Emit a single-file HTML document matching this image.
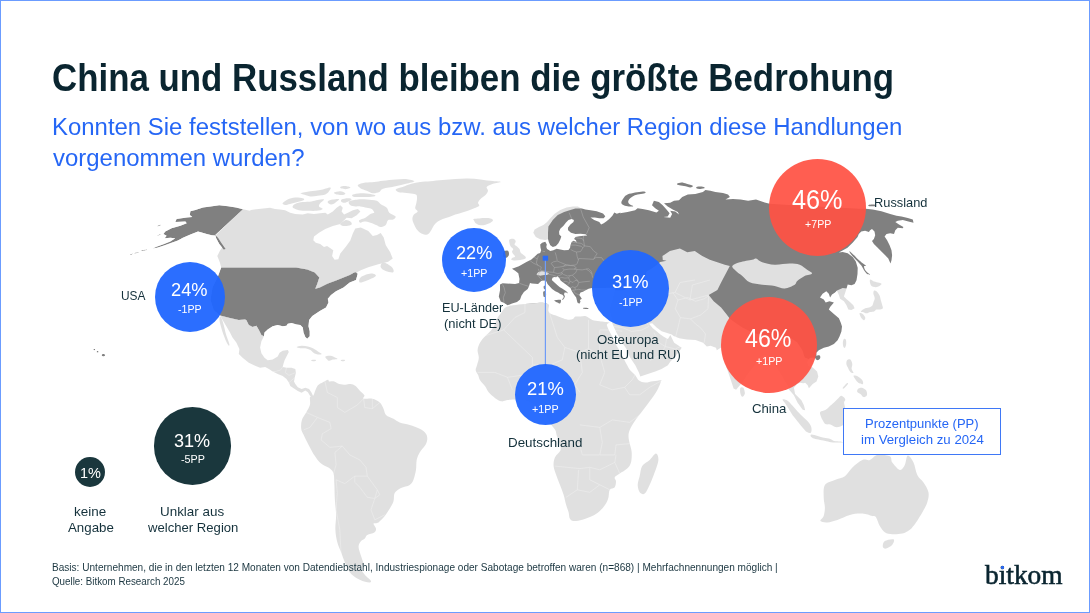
<!DOCTYPE html>
<html lang="de">
<head>
<meta charset="utf-8">
<title>China und Russland bleiben die größte Bedrohung</title>
<style>
html,body{margin:0;padding:0;background:#fff;}
body{width:1090px;height:613px;overflow:hidden;position:relative;font-family:"Liberation Sans",sans-serif;color:#14313b;}
#frame{position:absolute;left:0;top:0;width:1088px;height:611px;border:1px solid #6b9cff;z-index:20;pointer-events:none;}
#map{position:absolute;left:0;top:0;width:1090px;height:613px;}
.c{position:absolute;border-radius:50%;}
.blue{background:rgba(32,102,255,.95);}
.red{background:rgba(255,82,68,.93);}
.dark{background:#1a373d;}
.t{position:absolute;margin:0;padding:0;font-weight:normal;white-space:nowrap;transform-origin:0 0;font-family:"Liberation Sans",sans-serif;}
#note{position:absolute;left:843.2px;top:408px;width:155.6px;height:44.9px;border:1px solid #3f78f6;background:#fff;}
#idot{position:absolute;left:1000.6px;top:566.4px;width:3px;height:2.9px;background:#2a69f3;border-radius:1px;}
</style>
</head>
<body>
<svg id="map" viewBox="0 0 1090 613">
<defs>
<clipPath id="lc"><path d="M243.0,209.2L236.0,207.6L228.1,206.3L219.3,205.3L210.5,206.6L203.0,207.6L195.4,210.1L190.4,211.3L189.8,215.1L192.3,217.0L186.7,217.6L176.6,218.9L175.3,222.0L185.4,221.4L186.7,223.3L180.4,225.8L171.6,228.3L165.3,231.4L163.4,233.9L166.6,235.8L164.7,238.3L170.3,237.7L175.3,238.3L170.3,241.5L162.8,244.6L156.5,246.7L152.7,248.4L157.1,247.7L164.0,245.6L171.6,242.8L177.9,240.5L182.9,237.7L190.4,234.4L198.0,231.4L201.7,232.4L206.7,233.9L211.8,235.2L215.5,234.9L218.0,237.7L221.2,242.7L225.6,249.0L223.7,249.6L219.3,244.0L216.2,238.3L215.3,234.9Z"/><path d="M141.2,250.8C141.7,250.6 143.0,250.3 144.0,250.1C144.9,249.9 146.3,249.6 146.7,249.6C147.2,249.6 147.2,249.9 146.7,250.1C146.3,250.3 144.9,250.6 144.0,250.8C143.0,250.9 141.7,251.1 141.2,251.1C140.7,251.1 140.7,250.9 141.2,250.8Z"/><path d="M134.4,253.3C134.7,253.1 135.7,252.8 136.4,252.6C137.1,252.5 138.1,252.1 138.4,252.1C138.8,252.1 138.8,252.5 138.4,252.6C138.1,252.8 137.1,253.1 136.4,253.3C135.7,253.4 134.7,253.6 134.4,253.6C134.1,253.6 134.1,253.4 134.4,253.3Z"/><path d="M130.1,254.7C130.3,254.5 131.0,254.2 131.4,254.0C131.8,253.8 132.4,253.5 132.7,253.5C132.9,253.5 132.9,253.8 132.7,254.0C132.4,254.2 131.8,254.5 131.4,254.7C131.0,254.8 130.3,255.0 130.1,255.0C129.9,255.0 129.9,254.8 130.1,254.7Z"/><path d="M157.3,225.9C157.6,225.7 158.4,225.5 159.0,225.3C159.6,225.1 160.5,224.8 160.8,224.8C161.1,224.8 161.1,225.1 160.8,225.3C160.5,225.5 159.6,225.7 159.0,225.9C158.4,226.1 157.6,226.3 157.3,226.3C157.0,226.3 157.0,226.1 157.3,225.9Z"/><path d="M157.5,235.3C157.8,235.1 158.5,234.9 159.0,234.7C159.5,234.5 160.3,234.2 160.5,234.2C160.8,234.2 160.8,234.5 160.5,234.7C160.3,234.9 159.5,235.1 159.0,235.3C158.5,235.5 157.8,235.7 157.5,235.7C157.3,235.7 157.3,235.5 157.5,235.3Z"/><path d="M396.3,188.9C397.4,188.2 400.1,187.8 402.6,187.0C405.1,186.1 408.5,184.7 411.4,183.8C414.3,183.0 417.0,182.4 420.2,182.0C423.3,181.5 426.5,181.6 430.2,181.3C434.0,181.0 438.6,180.4 442.8,180.1C447.0,179.7 451.2,179.3 455.3,179.1C459.5,178.8 463.7,178.5 467.9,178.6C472.1,178.6 476.3,179.0 480.5,179.4C484.7,179.9 489.7,180.7 493.0,181.1C496.4,181.5 500.6,181.5 500.6,182.0C500.6,182.4 495.3,183.0 493.0,183.8C490.7,184.7 487.6,185.8 486.7,187.0C485.9,188.1 488.2,189.4 488.0,190.7C487.8,192.1 486.7,193.8 485.5,195.1C484.2,196.5 481.7,197.7 480.5,198.9C479.2,200.2 478.2,201.5 478.0,202.7C477.7,203.8 479.8,204.9 479.2,205.8C478.6,206.8 476.1,207.5 474.2,208.3C472.3,209.2 470.0,210.1 467.9,210.8C465.8,211.6 463.7,212.1 461.6,212.7C459.5,213.3 457.4,213.9 455.3,214.6C453.3,215.3 451.2,216.4 449.1,217.1C447.0,217.8 444.7,218.3 442.8,219.0C440.9,219.7 439.2,220.5 437.8,221.5C436.3,222.6 435.0,223.9 434.0,225.3C433.0,226.6 432.4,228.2 431.5,229.7C430.5,231.1 429.4,233.2 428.3,234.1C427.3,234.9 426.6,234.9 425.2,234.7C423.8,234.5 421.7,233.8 420.2,232.8C418.7,231.9 417.5,230.5 416.4,229.0C415.4,227.6 414.6,225.7 413.9,224.0C413.2,222.3 412.4,220.6 412.4,219.0C412.4,217.4 413.0,215.9 413.9,214.6C414.8,213.3 417.5,212.5 417.7,211.5C417.9,210.4 415.4,209.8 415.2,208.3C415.0,206.9 416.1,204.5 416.4,202.7C416.7,200.9 417.2,199.0 417.0,197.7C416.9,196.3 417.2,195.2 415.8,194.5C414.4,193.8 411.5,193.6 408.9,193.3C406.3,192.9 402.2,193.0 400.1,192.6C398.0,192.2 397.0,191.4 396.3,190.7C395.7,190.1 395.3,189.5 396.3,188.9Z"/><path d="M473.6,219.0C474.4,218.6 477.2,218.5 479.2,218.4C481.2,218.2 483.6,218.0 485.5,218.0C487.4,218.0 489.3,218.0 490.5,218.4C491.8,218.7 493.0,219.5 493.0,220.3C493.0,221.0 491.8,222.0 490.5,222.8C489.3,223.5 487.2,224.2 485.5,224.7C483.8,225.1 482.0,225.5 480.5,225.3C478.9,225.1 477.1,224.1 476.1,223.4C475.0,222.7 474.6,221.6 474.2,220.9C473.8,220.2 472.7,219.4 473.6,219.0Z"/><path d="M349.1,201.4C350.4,200.5 355.0,199.8 357.9,199.5C360.8,199.2 363.6,199.3 366.7,199.5C369.8,199.7 374.4,200.0 376.7,200.8C379.0,201.5 378.8,202.8 380.5,203.9C382.2,205.1 385.3,206.2 386.8,207.7C388.3,209.1 387.8,211.2 389.3,212.7C390.8,214.2 395.0,215.3 395.6,216.5C396.2,217.6 394.3,219.0 393.1,219.6C391.8,220.2 389.3,219.3 388.0,220.2C386.8,221.2 386.8,224.1 385.5,225.3C384.3,226.4 382.0,227.1 380.5,227.1C379.0,227.1 378.4,226.0 376.7,225.3C375.1,224.5 372.6,223.4 370.5,222.7C368.4,222.1 365.9,221.5 364.2,221.5C362.5,221.5 361.3,223.0 360.4,222.7C359.6,222.5 358.3,221.1 359.2,220.2C360.0,219.4 363.6,218.8 365.4,217.7C367.3,216.7 369.0,214.8 370.5,214.0C371.9,213.1 374.0,213.5 374.2,212.7C374.4,211.9 373.0,209.8 371.7,208.9C370.5,208.1 368.6,208.1 366.7,207.7C364.8,207.3 362.3,206.6 360.4,206.4C358.5,206.2 357.1,206.6 355.4,206.4C353.7,206.2 351.4,206.0 350.4,205.2C349.3,204.3 347.9,202.3 349.1,201.4Z"/><path d="M292.6,206.4C292.8,205.7 293.4,204.6 295.1,203.9C296.8,203.2 299.9,202.4 302.7,202.0C305.4,201.6 308.9,201.7 311.4,201.4C314.0,201.1 315.6,200.5 317.7,200.1C319.8,199.8 323.6,199.0 324.0,199.5C324.4,200.0 321.1,202.1 320.2,203.3C319.4,204.4 318.6,205.5 319.0,206.4C319.4,207.4 323.2,208.2 322.7,208.9C322.3,209.7 319.0,210.5 316.5,210.8C314.0,211.1 310.6,210.9 307.7,210.8C304.7,210.7 301.2,210.6 298.9,210.2C296.6,209.8 294.9,208.9 293.9,208.3C292.8,207.7 292.4,207.2 292.6,206.4Z"/><path d="M282.6,203.3C283.0,202.4 285.5,200.5 287.6,199.5C289.7,198.6 292.6,197.8 295.1,197.6C297.6,197.4 301.2,197.8 302.7,198.3C304.1,198.7 304.7,199.5 303.9,200.1C303.1,200.8 299.9,201.4 297.6,202.0C295.3,202.7 292.2,203.4 290.1,203.9C288.0,204.4 286.3,205.0 285.1,204.9C283.8,204.8 282.1,204.2 282.6,203.3Z"/><path d="M300.8,193.2C301.8,192.7 306.9,191.9 310.2,191.3C313.4,190.8 316.9,190.7 320.2,190.1C323.6,189.5 328.8,187.4 330.3,187.6C331.7,187.8 329.9,190.2 329.0,191.3C328.2,192.5 327.1,193.8 325.3,194.5C323.4,195.2 320.2,195.4 317.7,195.7C315.2,196.1 312.5,196.6 310.2,196.4C307.9,196.2 305.5,195.0 303.9,194.5C302.3,194.0 299.7,193.8 300.8,193.2Z"/><path d="M334.0,192.6C334.7,192.1 338.4,191.2 340.3,191.3C342.2,191.5 344.9,192.6 345.3,193.2C345.8,193.8 344.3,194.7 342.8,194.9C341.4,195.1 338.0,194.9 336.6,194.5C335.1,194.1 333.4,193.1 334.0,192.6Z"/><path d="M340.3,187.0C341.0,186.5 343.7,186.0 345.3,186.1C347.0,186.2 350.2,187.1 350.4,187.6C350.6,188.1 348.1,188.9 346.6,189.1C345.1,189.3 342.6,188.9 341.6,188.6C340.5,188.2 339.7,187.4 340.3,187.0Z"/><path d="M357.9,185.1C358.7,184.1 362.7,183.1 365.4,182.6C368.2,182.0 371.3,182.2 374.2,181.9C377.2,181.6 379.5,181.1 383.0,180.7C386.6,180.3 391.8,179.7 395.6,179.4C399.4,179.1 402.9,178.7 406.0,179.0C409.1,179.4 414.4,180.5 414.4,181.3C414.4,182.1 409.1,183.0 406.0,183.8C402.9,184.7 399.4,185.5 395.6,186.3C391.8,187.2 385.7,187.9 383.0,188.8C380.3,189.8 380.9,191.2 379.3,192.0C377.6,192.7 375.1,193.4 373.0,193.2C370.9,193.0 368.8,191.6 366.7,190.7C364.6,189.9 361.9,189.2 360.4,188.2C359.0,187.3 357.1,186.0 357.9,185.1Z"/><path d="M352.9,194.5C354.1,194.0 357.5,193.3 360.4,193.2C363.3,193.1 368.0,193.4 370.5,193.9C373.0,194.3 375.7,195.2 375.5,195.7C375.3,196.3 372.1,196.8 369.2,197.0C366.3,197.2 360.6,197.1 357.9,197.0C355.2,196.9 353.7,196.8 352.9,196.4C352.0,196.0 351.6,195.0 352.9,194.5Z"/><path d="M327.8,201.4C328.4,200.7 330.9,199.9 332.8,199.5C334.7,199.1 338.7,198.6 339.1,199.1C339.5,199.7 336.6,201.8 335.3,202.7C334.0,203.6 332.6,204.4 331.5,204.5C330.5,204.7 329.7,204.2 329.0,203.7C328.4,203.1 327.1,202.1 327.8,201.4Z"/><path d="M341.6,199.5C342.6,198.9 346.2,198.3 347.9,198.3C349.5,198.3 352.0,198.8 351.6,199.5C351.2,200.2 347.0,202.2 345.3,202.7C343.7,203.1 342.2,202.5 341.6,202.0C341.0,201.5 340.5,200.1 341.6,199.5Z"/><path d="M340.3,224.0C340.7,223.1 343.7,220.7 345.3,220.2C347.0,219.8 349.3,220.8 350.4,221.5C351.4,222.2 352.3,223.9 351.6,224.6C351.0,225.4 348.1,225.7 346.6,225.9C345.1,226.1 343.9,226.2 342.8,225.9C341.8,225.6 339.9,224.9 340.3,224.0Z"/><path d="M243.0,209.2L249.7,210.7L251.0,209.9L270.0,207.7L275.0,208.9L280.0,209.6L285.1,210.2L290.1,212.7L295.1,214.0L302.7,214.6L307.7,213.3L314.0,214.0L320.2,213.3L325.3,212.7L327.8,214.6L332.8,211.4L336.6,207.7L340.3,205.2L342.8,207.7L341.6,211.4L344.1,214.6L347.9,212.7L352.9,210.2L357.9,208.9L360.4,211.4L356.7,215.2L351.6,218.3L346.6,217.7L344.1,220.2L340.3,224.0L332.8,225.9L325.3,229.0L319.0,232.8L314.0,236.6L313.3,240.3L315.8,242.8L320.2,244.1L324.0,247.0L327.1,246.1L333.3,250.3L332.1,256.1L334.6,259.8L338.3,259.3L340.3,253.6L345.8,246.8L350.3,240.4L352.8,233.6L355.3,228.6L360.8,227.4L368.3,231.1L372.8,236.1L377.0,234.9L380.7,233.1L383.7,237.4L385.7,244.9L390.2,252.3L392.7,258.6L388.2,261.8L378.3,264.3L368.3,267.3L360.8,270.3L357.0,272.3L357.7,273.7L355.2,272.0L349.7,275.0L343.5,277.5L336.0,280.4L327.3,283.7L319.8,287.4L315.3,288.7L317.3,283.7L319.3,277.5L314.8,272.5L307.3,269.5L296.1,267.5L221.2,267.5L219.8,262.3L217.3,256.1L219.8,251.1L222.3,247.3L216.0,234.9Z"/><path d="M383.2,262.3C385.1,262.3 390.3,265.6 392.0,267.3C393.6,269.0 394.3,271.7 393.2,272.3C392.2,272.9 387.8,271.9 385.7,271.1C383.7,270.2 381.2,268.8 380.7,267.3C380.3,265.9 381.4,262.3 383.2,262.3Z"/><path d="M360.8,277.3C362.7,275.8 368.3,273.8 370.8,273.6C373.3,273.3 376.6,274.8 375.8,276.0C374.9,277.3 368.5,280.0 365.8,281.0C363.1,282.1 360.4,282.9 359.5,282.3C358.7,281.7 358.9,278.8 360.8,277.3Z"/><path d="M221.2,267.5L217.5,277.5L212.5,287.4L210.5,299.9L213.7,309.9L220.0,315.4L229.9,317.9L238.7,319.9L244.9,319.4L246.3,320.0L248.8,325.0L252.6,326.9L256.4,325.7L258.9,330.0L261.4,335.1L263.9,336.3L264.5,332.6L267.7,329.4L272.7,326.3L277.7,325.0L282.7,326.3L286.5,325.7L287.8,323.8L291.5,323.1L296.6,324.4L300.3,325.0L302.8,327.5L303.5,332.6L305.3,337.0L307.2,338.8L309.7,336.3L309.7,331.3L308.5,326.3L309.1,320.0L312.3,316.1L319.8,311.1L326.0,307.4L328.5,302.4L327.8,298.7L331.0,294.9L336.0,291.2L343.5,287.4L349.7,282.4L356.0,279.9L357.7,273.7L355.2,272.0L349.7,275.0L343.5,277.5L336.0,280.4L327.3,283.7L319.8,287.4L315.3,288.7L317.3,283.7L319.3,277.5L314.8,272.5L307.3,269.5L296.1,267.5Z"/><path d="M220.0,315.4L229.9,317.9L238.7,319.9L244.9,319.4L246.3,320.0L248.8,325.0L252.6,326.9L256.4,325.7L258.9,330.0L261.4,335.1L263.9,336.3L261.4,341.3L260.1,347.6L261.4,353.3L264.5,357.7L267.7,360.2L272.7,359.6L277.7,356.4L279.6,352.7L282.7,350.8L287.8,350.1L288.8,352.0L286.5,356.4L284.6,360.2L283.4,364.0L282.7,367.1L286.5,367.7L291.5,367.7L295.3,369.0L295.9,372.7L294.7,377.8L294.0,381.5L295.3,384.0L297.8,387.2L301.6,389.1L305.3,387.8L309.1,389.1L311.6,392.8L313.5,397.0L311.0,397.0L309.7,395.3L307.9,392.2L305.3,390.6L301.6,392.8L297.8,391.0L294.0,388.4L290.3,385.9L289.0,382.8L286.5,379.0L282.7,375.9L277.7,374.0L272.7,371.5L268.9,369.0L265.2,367.1L260.1,367.7L255.1,365.8L248.8,362.7L242.6,357.7L238.8,353.9L239.4,348.9L236.3,342.6L232.5,337.6L230.0,332.6Z"/><path d="M221.2,317.4C221.9,318.5 222.9,322.0 223.7,324.9C224.5,327.8 225.2,331.6 226.2,334.9C227.2,338.1 229.2,342.7 229.4,344.3C229.7,346.0 228.8,346.0 228.0,344.8C227.1,343.7 225.7,340.7 224.5,337.3C223.2,334.0 221.3,328.1 220.5,324.9C219.6,321.6 219.3,319.1 219.5,317.9C219.6,316.6 220.5,316.2 221.2,317.4Z"/><path d="M296.6,347.0C296.8,346.6 299.7,345.8 301.6,345.7C303.5,345.6 306.0,346.0 307.9,346.4C309.7,346.8 311.2,347.4 312.9,348.3C314.6,349.1 316.4,350.5 317.9,351.4C319.4,352.3 321.7,353.4 321.7,353.9C321.7,354.4 319.2,354.6 317.9,354.5C316.7,354.4 315.4,354.0 314.1,353.3C312.9,352.5 311.8,351.0 310.4,350.1C308.9,349.3 307.0,348.6 305.3,348.3C303.7,347.9 301.8,348.5 300.3,348.3C298.9,348.0 296.3,347.4 296.6,347.0Z"/><path d="M325.4,356.4C326.1,355.9 328.8,355.6 330.5,355.8C332.1,356.0 334.3,357.2 335.5,357.7C336.6,358.2 337.8,358.6 337.4,358.9C337.0,359.2 334.3,359.2 333.0,359.6C331.6,359.9 330.3,360.9 329.2,360.8C328.2,360.7 327.3,359.7 326.7,358.9C326.1,358.2 324.8,356.9 325.4,356.4Z"/><path d="M311.6,359.9C312.2,359.7 314.7,359.6 315.4,359.8C316.1,360.0 316.2,360.7 315.6,360.9C315.1,361.1 312.5,361.2 311.9,361.1C311.2,360.9 311.0,360.1 311.6,359.9Z"/><path d="M341.1,359.9C341.7,359.7 343.9,359.6 344.5,359.8C345.1,360.0 345.2,360.7 344.7,360.9C344.1,361.1 341.9,361.2 341.3,361.1C340.7,360.9 340.6,360.1 341.1,359.9Z"/><path d="M311.0,397.0C311.6,396.6 312.8,396.5 313.5,395.3C314.2,394.2 314.7,392.0 315.4,390.3C316.1,388.7 316.7,386.7 317.9,385.3C319.2,383.9 321.3,383.1 322.9,382.2C324.6,381.2 326.9,379.8 328.0,379.7C329.0,379.5 328.2,381.2 329.2,381.5C330.3,381.8 332.6,381.1 334.2,381.5C335.9,382.0 337.4,383.5 339.3,384.0C341.1,384.6 343.7,384.7 345.5,384.7C347.4,384.7 348.9,383.8 350.6,384.0C352.2,384.3 353.9,384.7 355.6,385.9C357.3,387.2 359.1,390.0 360.6,391.6C362.1,393.2 363.9,394.2 364.4,395.3C364.9,396.5 362.2,398.2 363.6,398.7C364.9,399.3 369.6,398.1 372.3,398.7C375.0,399.3 377.9,400.8 379.8,402.5C381.6,404.1 382.5,406.6 383.5,408.7C384.6,410.8 384.3,413.3 386.0,414.9C387.7,416.6 391.2,417.4 393.5,418.7C395.8,419.9 397.0,421.4 399.7,422.4C402.4,423.5 406.4,423.9 409.7,424.9C413.0,426.0 417.0,427.2 419.7,428.7C422.4,430.1 424.7,431.8 425.9,433.7C427.2,435.5 427.4,437.8 427.2,439.9C427.0,442.0 425.9,444.1 424.7,446.1C423.4,448.2 421.0,450.1 419.7,452.4C418.4,454.7 417.3,456.9 416.7,459.9C416.1,462.8 416.5,466.5 416.0,469.8C415.4,473.2 414.5,477.3 413.5,479.8C412.4,482.3 411.8,483.6 409.7,484.9C407.6,486.3 403.5,486.6 401.0,487.9C398.5,489.3 396.0,490.7 394.7,492.9C393.5,495.1 394.3,498.5 393.5,501.2C392.7,503.8 391.2,506.2 389.8,508.6C388.3,511.1 386.6,513.8 384.8,516.1C382.9,518.4 380.4,521.1 378.5,522.4C376.7,523.6 373.9,522.6 373.5,523.6C373.1,524.7 375.9,527.2 376.0,528.6C376.2,530.1 375.7,531.3 374.3,532.4C372.8,533.4 368.9,533.8 367.3,534.9C365.7,535.9 365.8,537.6 364.8,538.6C363.8,539.6 362.1,539.8 361.1,541.1C360.0,542.3 358.8,544.2 358.6,546.1C358.4,548.0 359.2,550.0 359.8,552.3C360.4,554.6 361.7,557.7 362.3,559.8C362.9,561.9 364.0,563.6 363.6,564.8C363.1,566.0 359.6,565.6 359.8,567.3C360.0,569.0 362.9,572.5 364.8,574.8C366.7,577.1 370.6,579.8 371.0,581.0C371.5,582.3 369.6,582.7 367.3,582.3C365.0,581.9 360.2,580.2 357.3,578.5C354.4,576.9 351.9,575.0 349.8,572.3C347.7,569.6 346.3,565.6 344.8,562.3C343.4,559.0 342.3,555.6 341.1,552.3C339.8,549.0 338.3,546.1 337.3,542.3C336.4,538.6 335.6,534.4 335.4,529.9C335.1,525.3 336.2,519.9 336.1,514.9C336.0,509.9 335.1,504.9 334.9,499.9C334.6,494.9 334.6,489.3 334.4,484.9C334.1,480.6 334.4,476.4 333.6,473.7C332.9,471.0 331.9,470.3 329.9,468.6C327.8,466.9 323.6,465.7 321.1,463.6C318.6,461.5 317.0,459.2 314.9,456.1C312.8,453.0 310.5,448.4 308.6,444.9C306.8,441.4 304.9,437.6 303.7,434.9C302.4,432.2 301.5,431.2 301.2,428.7C300.9,426.2 301.1,422.6 301.9,419.9C302.7,417.2 304.8,414.9 306.2,412.4C307.5,409.9 309.3,407.5 309.9,405.0C310.5,402.5 309.7,398.8 309.9,397.5C310.1,396.1 310.4,397.3 311.0,397.0Z"/><path d="M491.4,330.0C489.7,332.1 487.0,334.2 485.1,336.3C483.2,338.4 481.3,340.3 480.1,342.6C478.8,344.9 477.8,347.6 477.6,350.1C477.4,352.7 478.9,355.2 478.8,357.7C478.7,360.2 477.5,363.1 477.0,365.2C476.4,367.3 475.5,368.6 475.7,370.2C475.9,371.9 477.5,373.6 478.2,375.3C478.9,376.9 478.9,378.4 480.1,380.3C481.2,382.1 483.7,384.2 485.1,386.3C486.6,388.3 487.2,390.6 488.9,392.6C490.6,394.5 493.1,396.7 495.2,398.2C497.3,399.7 499.3,401.0 501.4,401.3C503.5,401.7 505.6,400.4 507.7,400.1C509.8,399.8 511.5,399.5 514.0,399.5C516.5,399.5 520.1,399.7 522.8,400.1C525.5,400.5 528.2,401.1 530.3,402.0C532.4,402.8 533.7,404.0 535.3,405.1C537.0,406.3 539.1,407.6 540.4,408.9C541.6,410.1 541.8,411.4 542.9,412.7C543.9,413.9 545.6,415.2 546.7,416.4C547.7,417.7 548.3,418.7 549.2,420.2C550.0,421.7 550.6,423.5 551.7,425.2C552.7,426.9 554.6,428.6 555.4,430.2C556.3,431.9 556.1,433.2 556.7,435.3C557.3,437.3 558.6,440.3 559.2,442.8C559.8,445.3 561.2,447.9 560.5,450.3C559.7,452.8 556.0,454.7 554.9,457.4C553.7,460.0 553.4,463.2 553.6,466.1C553.8,469.0 555.1,471.7 556.1,474.8C557.2,478.0 558.6,481.5 559.9,484.8C561.1,488.1 562.6,491.5 563.6,494.8C564.6,498.1 565.3,501.9 566.1,504.8C566.9,507.7 568.0,510.0 568.6,512.3C569.2,514.6 569.0,517.1 569.8,518.5C570.7,520.0 571.5,520.8 573.6,521.0C575.7,521.2 579.2,520.6 582.3,519.8C585.4,518.9 589.4,517.5 592.3,516.0C595.2,514.6 597.5,513.1 599.8,511.0C602.1,508.9 604.6,505.8 606.0,503.5C607.5,501.2 607.9,499.6 608.5,497.3C609.1,495.0 608.7,491.5 609.8,489.8C610.8,488.1 613.7,488.8 614.8,487.3C615.8,485.9 616.0,482.7 616.0,481.1C616.0,479.4 614.1,478.6 614.8,477.3C615.4,476.1 617.7,475.0 619.8,473.6C621.8,472.1 625.4,470.5 627.2,468.6C629.1,466.7 630.2,465.1 631.0,462.4C631.7,459.7 631.9,455.5 631.7,452.4C631.5,449.3 630.3,446.3 629.7,443.6C629.2,440.9 628.5,438.4 628.5,436.2C628.5,433.9 628.7,432.4 629.7,429.9C630.8,427.4 632.6,424.3 634.7,421.2C636.8,418.1 639.7,414.5 642.2,411.2C644.7,407.9 647.4,404.3 649.7,401.2C652.0,398.1 654.3,395.2 655.9,392.5C657.6,389.8 658.9,386.9 659.7,385.0C660.5,383.1 660.7,382.0 660.9,381.2C661.2,380.5 662.3,380.3 661.0,380.3C659.7,380.3 655.5,381.0 652.8,381.3C650.2,381.7 647.6,382.7 645.3,382.6C643.0,382.5 640.7,381.8 639.0,380.6C637.3,379.4 636.7,377.0 635.3,375.3C633.8,373.6 631.7,372.2 630.2,370.3C628.8,368.4 627.9,366.7 626.5,364.0C625.0,361.3 623.1,357.1 621.4,354.0C619.8,350.8 618.1,348.3 616.4,345.2C614.7,342.0 613.0,338.4 611.4,335.1C609.8,331.9 607.5,327.7 607.0,325.7C606.5,323.7 607.8,323.7 608.3,323.2C608.7,322.6 611.1,322.8 609.7,322.4C608.3,322.1 602.6,321.6 599.7,321.2C596.8,320.8 594.5,320.8 592.3,319.9C590.0,319.1 588.0,316.8 586.0,316.2C584.0,315.6 582.2,316.5 580.4,316.6C578.6,316.6 576.7,316.1 575.4,316.6C574.1,317.0 574.1,318.5 572.9,319.1C571.6,319.6 569.7,319.9 567.9,319.7C566.0,319.5 563.7,318.5 561.6,317.8C559.5,317.1 557.2,316.0 555.3,315.3C553.4,314.6 551.4,314.3 550.3,313.4C549.1,312.6 548.6,311.6 548.4,310.3C548.2,308.9 549.1,306.3 549.0,305.3C548.9,304.2 548.8,304.4 547.8,304.0C546.7,303.6 545.5,302.8 542.7,302.7C540.0,302.6 535.4,303.1 531.4,303.4C527.5,303.7 522.9,304.1 518.9,304.6C514.9,305.2 510.1,305.8 507.6,306.5C505.1,307.2 504.9,308.0 503.8,309.0C502.8,310.1 502.3,311.3 501.3,312.8C500.3,314.3 498.6,315.9 497.5,317.8C496.5,319.7 496.0,322.1 495.0,324.1C494.0,326.1 493.0,328.0 491.4,330.0Z"/><path d="M655.9,453.6C657.4,453.6 658.6,456.7 658.4,459.9C658.2,463.0 656.2,468.2 654.7,472.3C653.2,476.5 651.4,481.3 649.7,484.8C648.0,488.4 646.4,492.3 644.7,493.6C643.0,494.8 640.9,493.8 639.7,492.3C638.6,490.8 637.7,487.5 637.7,484.8C637.7,482.1 639.0,479.2 639.7,476.1C640.5,473.0 640.6,468.8 642.2,466.1C643.9,463.4 647.4,461.9 649.7,459.9C652.0,457.8 654.5,453.6 655.9,453.6Z"/><path d="M507.6,305.3L503.8,302.7L500.7,301.5L498.8,296.5L500.0,290.2L500.0,284.5L502.6,283.3L515.1,283.9L519.1,282.9L519.5,278.9L518.3,273.2L515.1,270.7L512.0,268.8L518.9,266.3L526.4,261.9L531.4,259.4L537.7,253.8L540.2,253.0L541.2,250.3L540.5,247.7L540.2,244.6L542.1,242.7L545.3,241.7L546.8,244.6L546.3,247.1L547.1,249.0L550.3,250.9L553.4,250.3L556.6,248.7L560.3,249.6L564.1,250.3L568.5,249.9L570.1,247.7L570.4,245.2L571.6,242.1L573.5,240.8L576.0,241.7L576.7,243.3L576.0,240.2L574.1,239.0L575.4,237.1L579.2,236.2L583.6,235.8L587.3,235.4L585.4,234.2L580.4,233.7L575.4,233.9L571.0,232.7L568.1,230.2L567.9,227.7L570.4,224.5L573.5,222.0L573.9,220.1L571.6,218.9L568.5,219.9L566.0,222.6L563.5,225.8L560.3,228.7L559.1,231.4L559.3,234.6L561.3,236.4L560.3,239.6L558.4,243.3L555.9,245.9L552.8,247.1L550.3,245.2L548.8,242.1L548.0,239.0L545.3,240.0L540.2,239.2L535.8,237.1L533.3,232.7L534.6,229.5L539.0,227.0L543.4,225.1L547.1,222.0L550.3,218.2L554.7,213.8L560.3,210.1L566.6,207.6L572.9,206.6L577.9,206.6L581.0,208.2L585.4,209.4L590.5,210.3L596.7,211.3L603.0,213.6L605.3,216.3L603.7,218.2L599.3,218.2L594.9,217.4L590.5,217.4L594.2,220.1L599.3,222.0L601.1,224.5L603.7,223.3L606.2,221.4L609.3,218.9L612.4,215.7L614.3,212.6L616.8,213.8L625.6,220.1L625.6,270.3L615.6,287.7L591.8,288.1L588.6,288.7L586.1,290.0L583.0,291.8L580.5,292.5L579.3,295.0L580.5,296.8L581.8,298.7L579.9,299.9L580.5,301.8L579.3,303.7L577.4,302.4L576.8,299.9L576.2,297.4L574.3,295.0L573.0,293.1L571.5,290.6L570.5,288.1L568.1,286.2L565.6,284.3L563.1,282.5L560.6,280.6L559.3,278.1L557.4,276.2L556.2,277.2L554.3,276.9L552.5,277.8L551.8,280.0L553.4,281.5L555.6,283.4L557.8,285.5L559.9,287.3L562.1,288.4L564.0,289.7L565.9,290.9L567.1,292.0L568.1,293.6L566.2,292.5L564.6,292.5L564.0,294.3L564.9,296.2L564.3,298.1L562.8,299.9L562.1,299.3L563.4,298.1L563.7,296.2L562.4,294.8L560.3,294.0L558.1,292.5L555.3,291.2L552.1,289.0L549.8,286.5L547.5,284.0L546.5,281.5L544.3,280.6L541.2,280.9L538.1,284.0L535.0,283.7L531.9,283.4L530.0,283.1L528.9,286.4L527.7,288.9L523.9,292.1L521.4,295.8L520.1,299.6L517.0,302.1L512.0,303.4Z"/><path d="M554.0,300.3C554.3,300.0 555.7,300.0 556.8,299.9C557.9,299.9 559.9,299.5 560.6,299.8C561.2,300.1 561.0,301.2 560.9,301.8C560.8,302.4 560.5,303.3 559.9,303.4C559.4,303.5 558.3,302.8 557.4,302.4C556.6,302.1 555.5,301.6 555.0,301.2C554.4,300.8 553.7,300.5 554.0,300.3Z"/><path d="M543.4,291.5C543.8,291.1 545.1,290.7 545.6,291.2C546.0,291.7 546.1,293.4 546.1,294.3C546.1,295.3 546.0,296.4 545.6,296.8C545.2,297.2 544.1,297.2 543.7,296.7C543.3,296.2 543.3,294.9 543.2,294.0C543.2,293.2 543.0,292.0 543.4,291.5Z"/><path d="M543.8,286.1C544.1,285.7 544.8,285.5 545.1,285.9C545.3,286.3 545.5,287.9 545.3,288.4C545.2,289.0 544.7,289.3 544.5,289.2C544.2,289.2 543.8,288.6 543.7,288.1C543.6,287.6 543.6,286.5 543.8,286.1Z"/><path d="M583.6,307.8C584.3,307.6 587.2,307.8 588.0,308.0C588.7,308.2 588.7,308.9 588.0,309.0C587.2,309.1 584.3,309.0 583.6,308.8C582.8,308.6 582.8,307.9 583.6,307.8Z"/><path d="M509.5,239.6C510.2,238.8 512.8,238.6 513.9,239.0C514.9,239.3 515.6,240.5 515.7,241.5C515.8,242.4 514.3,243.8 514.5,244.6C514.7,245.4 516.2,245.8 517.0,246.5C517.8,247.2 518.9,248.0 519.5,249.0C520.1,250.0 520.0,251.7 520.8,252.8C521.5,253.8 523.1,254.5 523.9,255.3C524.7,256.0 525.7,256.5 525.8,257.2C525.9,257.8 525.5,258.6 524.5,259.0C523.6,259.5 521.7,259.8 520.1,260.1C518.6,260.3 516.6,260.6 515.1,260.6C513.7,260.5 511.8,260.1 511.3,259.7C510.9,259.2 512.0,258.3 512.6,257.8C513.2,257.3 515.0,257.2 515.1,256.5C515.2,255.9 513.8,254.9 513.2,254.0C512.7,253.2 512.0,252.3 512.0,251.5C512.0,250.7 513.4,249.8 513.2,249.0C513.0,248.2 511.3,247.4 510.7,246.5C510.1,245.5 509.7,244.5 509.5,243.3C509.3,242.2 508.7,240.3 509.5,239.6Z"/><path d="M503.8,251.5C504.7,250.6 507.4,250.3 508.2,250.9C509.0,251.5 509.2,254.1 508.8,255.3C508.5,256.4 507.3,257.6 506.3,257.8C505.4,258.0 503.6,257.6 503.2,256.5C502.8,255.5 503.0,252.5 503.8,251.5Z"/><path d="M616.8,213.8L620.6,212.6L620.0,213.3L627.5,212.1L635.1,210.2L637.6,208.3L642.6,209.0L648.9,210.2L656.4,212.5L658.9,210.8L655.2,208.3L652.0,205.2L653.9,200.8L658.9,202.0L662.7,205.2L666.5,209.6L669.6,213.3L667.7,216.5L663.3,217.1L670.2,217.7L672.1,214.0L670.2,210.8L675.3,211.5L679.0,214.6L677.8,212.1L672.7,209.6L667.7,206.4L664.0,203.3L670.2,202.7L674.0,200.8L679.0,200.2L682.2,197.0L687.8,194.5L695.3,193.9L702.9,192.0L705.4,190.1L710.4,190.7L715.4,192.0L723.0,192.9L728.0,194.5L729.9,197.0L725.5,199.5L733.0,198.9L740.6,199.5L748.1,200.8L756.0,199.5L764.7,202.4L769.7,203.7L789.7,204.9L812.1,206.2L837.1,207.4L859.5,208.7L864.8,208.7L865.7,208.8L872.7,209.5L881.4,211.3L890.2,213.9L896.5,215.7L901.5,216.4L907.8,217.9L912.8,219.5L913.5,222.7L908.4,221.4L902.8,220.1L897.8,220.8L895.3,222.0L899.0,224.5L903.4,227.0L902.8,228.3L897.8,227.7L895.3,230.2L894.0,234.0L890.2,233.3L886.5,234.0L884.6,236.5L887.1,240.2L889.6,245.3L891.5,250.3L892.1,255.3L891.5,260.3L890.5,263.5L888.3,258.4L885.2,255.3L881.4,251.5L877.7,247.8L873.9,244.0L872.0,240.9L873.9,239.0L875.2,235.2L874.5,231.4L872.0,228.9L870.1,230.2L868.9,232.1L865.1,230.8L861.3,231.4L858.8,234.0L857.6,237.1L852.6,242.7L847.5,247.8L838.9,252.6L842.7,252.0L847.7,253.2L852.7,257.0L855.8,261.4L857.7,267.7L857.5,274.0L856.5,280.2L854.6,284.0L851.4,285.3L847.7,284.6L846.4,289.0L845.2,292.8L843.9,296.6L846.4,299.1L850.2,302.2L853.3,305.3L854.6,308.2L851.4,310.1L848.3,309.5L846.4,305.1L843.9,301.3L840.1,298.8L838.9,295.0L837.0,290.7L835.1,292.5L832.0,294.4L830.1,297.6L828.8,293.8L826.3,291.3L822.6,293.8L820.0,297.6L823.8,299.4L825.7,302.6L829.5,301.3L833.9,302.6L830.1,307.0L828.8,309.5L833.9,313.9L838.9,318.3L840.8,322.7L842.0,326.4L841.4,331.5L839.5,336.5L837.6,340.3L833.9,344.0L828.8,346.5L823.8,347.8L818.8,350.3L816.3,352.8L816.7,358.6L813.5,357.4L809.7,357.9L807.2,362.4L808.5,366.1L812.7,367.6L817.1,371.4L818.3,376.4L816.5,381.4L812.7,384.0L808.9,388.3L807.7,385.2L805.2,382.7L803.3,383.3L800.1,382.7L797.0,384.0L793.9,387.7L795.1,394.0L801.4,400.3L803.9,405.3L805.2,410.3L802.7,409.7L797.6,402.8L793.9,395.3L790.7,391.5L788.8,389.6L787.6,385.2L785.1,381.4L779.8,372.3L774.8,364.9L769.8,359.9L764.8,354.9L759.8,357.4L754.8,364.9L747.3,374.8L742.4,382.3L736.1,389.8L733.6,388.6L729.9,377.3L724.9,362.4L721.1,347.4L716.8,350.3L716.0,347.7L710.6,345.8L706.8,346.4L703.1,342.7L695.5,340.1L686.7,339.5L679.2,338.3L673.6,336.0L671.7,334.5L667.9,333.2L661.6,331.3L656.6,327.6L652.2,323.2L649.1,323.8L652.8,328.2L656.6,331.3L660.4,334.5L664.1,337.0L667.9,338.9L670.4,335.1L672.3,338.9L674.2,342.7L678.0,345.2L681.7,347.7L679.2,351.4L674.2,357.7L670.4,361.5L667.9,365.3L661.6,369.0L655.3,371.5L647.8,374.0L640.3,376.6L639.0,372.8L635.3,365.3L630.2,357.7L626.5,348.9L621.4,341.4L616.4,332.6L613.3,325.7L612.0,322.6L612.2,319.9L609.7,310.0L615.6,287.7Z"/><path d="M824.9,484.9C826.8,482.0 831.6,481.4 834.9,479.9C838.2,478.5 842.0,478.3 844.9,476.2C847.8,474.1 849.5,470.2 852.4,467.5C855.3,464.7 859.4,461.2 862.4,460.0C865.3,458.7 867.3,460.8 869.8,460.0C872.3,459.1 874.0,455.6 877.3,455.0C880.7,454.3 887.3,455.0 889.8,456.2C892.3,457.5 890.6,460.2 892.3,462.5C894.0,464.7 897.7,469.5 899.8,469.9C901.9,470.4 903.5,467.4 904.8,465.0C906.1,462.5 906.3,455.9 907.8,455.5C909.2,455.1 911.9,459.2 913.5,462.5C915.1,465.7 915.6,471.6 917.3,474.9C918.9,478.3 921.6,479.5 923.5,482.4C925.4,485.3 927.9,489.1 928.5,492.4C929.1,495.7 928.3,499.1 927.2,502.4C926.2,505.7 924.1,509.0 922.3,512.4C920.4,515.7 918.1,519.4 916.0,522.4C913.9,525.3 912.1,528.0 909.8,529.8C907.5,531.7 905.2,532.8 902.3,533.6C899.4,534.3 895.2,534.5 892.3,534.3C889.4,534.1 886.9,533.7 884.8,532.3C882.7,531.0 881.3,528.6 879.8,526.1C878.4,523.6 877.3,519.0 876.1,517.4C874.8,515.7 874.6,516.7 872.3,516.1C870.1,515.5 866.1,513.8 862.4,513.6C858.6,513.4 854.0,513.8 849.9,514.9C845.7,515.9 841.1,518.6 837.4,519.9C833.7,521.1 830.2,522.1 827.4,522.4C824.6,522.6 821.1,522.1 820.4,521.1C819.8,520.1 822.9,518.4 823.7,516.1C824.4,513.8 824.9,510.5 824.9,507.4C824.9,504.3 823.7,501.1 823.7,497.4C823.7,493.7 823.0,487.8 824.9,484.9Z"/><path d="M884.8,541.1C886.6,539.8 892.3,538.7 893.6,539.3C894.8,540.0 893.6,543.3 892.3,544.8C891.1,546.4 887.6,548.2 886.1,548.6C884.5,548.9 883.0,548.1 882.8,546.8C882.6,545.6 883.0,542.3 884.8,541.1Z"/><path d="M621.3,202.7C621.3,201.4 622.7,199.0 623.8,197.7C624.8,196.3 625.7,195.3 627.5,194.5C629.4,193.7 632.6,193.2 635.1,192.6C637.6,192.1 640.8,191.5 642.6,191.4C644.4,191.3 645.5,191.6 645.7,192.0C646.0,192.4 645.2,193.2 643.9,193.6C642.5,194.1 639.5,194.1 637.6,194.5C635.7,195.0 633.9,195.7 632.6,196.4C631.2,197.1 630.2,198.0 629.4,198.9C628.7,199.8 628.1,201.1 628.2,202.0C628.3,203.0 629.2,203.9 630.0,204.6C630.9,205.2 633.4,205.9 633.2,206.2C633.0,206.5 630.4,206.6 628.8,206.4C627.2,206.3 625.0,205.8 623.8,205.2C622.5,204.6 621.3,203.9 621.3,202.7Z"/><path d="M677.1,183.8C677.7,183.4 680.0,182.6 681.5,182.6C683.1,182.6 684.7,183.3 686.6,183.8C688.4,184.4 692.2,185.1 692.8,185.7C693.5,186.3 691.8,187.3 690.3,187.4C688.9,187.4 686.0,186.5 684.0,186.1C682.1,185.7 679.5,185.5 678.4,185.1C677.2,184.7 676.6,184.3 677.1,183.8Z"/><path d="M696.6,187.0C697.4,186.6 700.3,186.5 701.6,186.6C703.0,186.7 705.0,187.5 704.8,187.9C704.6,188.2 701.7,188.7 700.4,188.9C699.1,189.0 697.5,188.9 696.9,188.6C696.2,188.3 695.8,187.3 696.6,187.0Z"/><path d="M849.6,251.3C850.0,251.5 851.3,252.6 852.7,253.9C854.1,255.1 856.0,257.3 857.7,258.9C859.4,260.5 861.4,262.1 862.7,263.3C864.1,264.4 865.7,265.3 865.9,265.8C866.1,266.3 864.1,265.7 864.0,266.4C863.9,267.2 864.5,269.0 865.3,270.2C866.0,271.3 867.6,272.6 868.4,273.3C869.2,274.1 870.5,274.5 870.3,274.6C870.1,274.7 868.2,274.7 867.1,274.0C866.1,273.2 864.9,271.5 864.0,270.2C863.1,268.8 862.5,267.3 861.5,265.8C860.4,264.3 859.1,262.9 857.7,261.4C856.4,259.9 854.6,258.4 853.3,257.0C852.1,255.6 850.8,254.2 850.2,253.2C849.6,252.3 849.1,251.2 849.6,251.3Z"/><path d="M870.3,279.6C870.9,279.4 872.6,281.0 874.0,281.5C875.5,282.0 877.8,282.3 879.1,282.7C880.3,283.2 881.7,283.4 881.6,284.0C881.5,284.6 879.6,286.0 878.4,286.5C877.3,287.0 875.8,287.2 874.7,287.1C873.5,287.0 872.3,286.6 871.5,285.9C870.8,285.2 870.2,283.8 870.0,282.7C869.8,281.7 869.6,279.8 870.3,279.6Z"/><path d="M874.0,290.7C874.7,290.3 876.2,291.1 877.2,291.9C878.1,292.7 879.1,294.2 879.7,295.7C880.3,297.1 880.5,299.1 881.0,300.7C881.4,302.3 881.9,303.8 882.2,305.1C882.5,306.3 883.2,307.5 882.8,308.2C882.5,309.0 881.4,309.3 880.3,309.5C879.3,309.7 877.6,309.2 876.6,309.5C875.5,309.8 875.1,311.0 874.0,311.4C873.0,311.8 871.5,311.7 870.3,312.0C869.0,312.3 867.8,313.3 866.5,313.3C865.3,313.3 863.7,312.3 862.7,312.0C861.8,311.7 860.7,311.9 860.9,311.4C861.1,310.8 862.6,309.5 864.0,308.9C865.4,308.2 867.7,308.1 869.0,307.6C870.4,307.1 871.4,306.6 872.2,305.7C872.9,304.9 873.0,303.8 873.4,302.6C873.8,301.3 874.7,299.7 874.7,298.2C874.7,296.7 873.5,295.0 873.4,293.8C873.3,292.5 873.4,291.0 874.0,290.7Z"/><path d="M859.6,313.3C860.0,312.9 861.8,313.2 862.7,313.9C863.7,314.6 865.0,316.6 865.3,317.7C865.5,318.7 864.6,320.1 864.0,320.2C863.4,320.3 862.1,319.0 861.5,318.3C860.9,317.5 860.5,316.6 860.2,315.8C859.9,314.9 859.2,313.6 859.6,313.3Z"/><path d="M843.9,339.0C844.4,338.6 845.4,338.8 845.8,339.6C846.2,340.5 846.3,342.7 846.2,344.0C846.0,345.4 845.4,347.4 844.9,347.8C844.4,348.2 843.6,347.5 843.3,346.5C842.9,345.6 842.8,343.4 842.9,342.1C843.0,340.9 843.4,339.4 843.9,339.0Z"/><path d="M816.3,356.0C816.9,355.3 818.7,355.0 819.4,355.3C820.1,355.6 820.5,357.0 820.3,357.8C820.1,358.6 818.9,359.9 818.2,360.1C817.4,360.3 816.0,359.8 815.7,359.1C815.3,358.4 815.7,356.6 816.3,356.0Z"/><path d="M782.6,399.5C783.0,399.0 785.9,399.7 787.6,400.7C789.3,401.8 790.9,404.0 792.6,405.7C794.3,407.5 795.7,409.4 797.6,411.4C799.5,413.4 802.0,415.8 803.9,417.7C805.8,419.6 807.7,421.0 808.9,422.7C810.2,424.4 811.1,426.0 811.4,427.7C811.8,429.4 811.5,432.0 810.8,432.7C810.1,433.5 808.4,433.0 807.0,432.1C805.7,431.3 804.2,429.5 802.7,427.7C801.1,425.9 799.3,423.5 797.6,421.4C796.0,419.3 794.1,417.3 792.6,415.2C791.1,413.1 790.1,410.9 788.8,408.9C787.6,406.9 786.1,404.8 785.1,403.2C784.0,401.7 782.1,399.9 782.6,399.5Z"/><path d="M811.4,434.6C812.6,434.5 815.6,435.4 817.7,435.9C819.8,436.4 821.9,437.2 824.0,437.8C826.1,438.3 828.6,438.5 830.3,439.0C832.0,439.5 832.4,440.5 834.0,440.9C835.7,441.3 838.9,441.3 840.3,441.5C841.8,441.8 844.1,442.3 842.8,442.4C841.6,442.6 835.5,442.6 832.8,442.4C830.1,442.2 828.6,441.6 826.5,441.2C824.4,440.7 822.3,440.3 820.2,439.9C818.1,439.5 815.5,439.2 814.0,438.6C812.4,438.1 811.2,437.2 810.8,436.5C810.4,435.8 810.3,434.7 811.4,434.6Z"/><path d="M820.2,412.0C821.0,411.0 823.8,411.0 825.3,410.1C826.7,409.3 827.6,408.3 829.0,407.0C830.5,405.7 832.6,404.0 834.0,402.6C835.5,401.2 836.7,400.0 837.8,398.8C839.0,397.7 839.9,395.9 841.0,395.7C842.0,395.5 843.4,396.8 844.1,397.6C844.8,398.3 845.3,399.3 845.3,400.1C845.3,400.9 844.1,401.1 844.1,402.6C844.1,404.1 844.9,406.4 845.3,408.9C845.8,411.4 846.8,415.2 846.6,417.7C846.4,420.2 845.1,422.5 844.1,424.0C843.0,425.4 841.8,425.9 840.3,426.5C838.9,427.0 837.0,427.4 835.3,427.1C833.6,426.8 832.0,425.1 830.3,424.6C828.6,424.1 826.5,424.7 825.3,424.0C824.0,423.2 823.5,421.4 822.7,420.2C822.0,418.9 821.3,417.8 820.9,416.4C820.4,415.1 819.5,413.1 820.2,412.0Z"/><path d="M847.2,360.1C847.9,359.4 849.5,358.8 850.4,359.5C851.2,360.1 852.0,362.3 852.3,363.9C852.5,365.4 851.4,367.4 851.6,368.9C851.8,370.3 853.7,372.1 853.5,372.7C853.3,373.2 851.3,372.9 850.4,372.0C849.4,371.2 848.5,369.0 847.9,367.6C847.2,366.3 846.5,365.1 846.4,363.9C846.2,362.6 846.6,360.8 847.2,360.1Z"/><path d="M853.5,375.8C853.8,375.2 856.4,375.7 857.9,376.4C859.4,377.2 861.5,378.9 862.3,380.2C863.1,381.4 863.5,383.4 862.9,384.0C862.4,384.5 860.3,384.0 859.2,383.3C858.0,382.7 857.0,381.4 856.0,380.2C855.1,378.9 853.2,376.4 853.5,375.8Z"/><path d="M857.9,389.0C858.6,388.2 860.3,387.5 861.7,387.7C863.0,387.9 865.2,389.0 866.1,390.2C866.9,391.5 867.4,394.1 866.9,395.3C866.5,396.4 864.6,397.3 863.6,397.1C862.5,396.9 861.5,394.8 860.4,394.0C859.4,393.2 857.7,393.0 857.3,392.1C856.9,391.3 857.2,389.7 857.9,389.0Z"/><path d="M846.9,383.3C847.7,382.7 848.3,383.1 847.9,384.0C847.4,384.8 844.9,387.7 844.1,388.3C843.3,389.0 842.4,388.6 842.8,387.7C843.3,386.9 846.0,384.0 846.9,383.3Z"/><path d="M740.4,387.8C740.9,386.9 742.6,386.9 743.4,387.8C744.1,388.8 745.0,392.1 744.9,393.6C744.7,395.0 743.1,396.8 742.4,396.8C741.6,396.8 740.7,395.0 740.4,393.6C740.0,392.1 739.9,388.8 740.4,387.8Z"/><path d="M868.6,205.1C869.2,204.8 870.9,204.6 872.0,204.6C873.2,204.5 874.8,204.7 875.4,204.9C876.0,205.2 876.0,205.7 875.4,205.9C874.8,206.2 873.2,206.2 872.0,206.2C870.9,206.2 869.2,206.1 868.6,205.9C868.1,205.8 868.1,205.3 868.6,205.1Z"/><path d="M95.2,349.6C95.2,349.8 95.1,350.0 94.9,350.1C94.8,350.2 94.5,350.3 94.3,350.3C94.1,350.3 93.8,350.2 93.7,350.1C93.5,350.0 93.4,349.8 93.4,349.6C93.4,349.4 93.5,349.2 93.7,349.1C93.8,349.0 94.1,348.9 94.3,348.9C94.5,348.9 94.8,349.0 94.9,349.1C95.1,349.2 95.2,349.4 95.2,349.6Z"/><path d="M98.6,351.8C98.6,352.0 98.5,352.2 98.3,352.4C98.2,352.5 97.8,352.6 97.6,352.6C97.4,352.6 97.0,352.5 96.9,352.4C96.7,352.2 96.6,352.0 96.6,351.8C96.6,351.6 96.7,351.4 96.9,351.2C97.0,351.1 97.4,351.0 97.6,351.0C97.8,351.0 98.2,351.1 98.3,351.2C98.5,351.4 98.6,351.6 98.6,351.8Z"/><path d="M105.1,355.2C105.1,355.5 104.9,355.9 104.6,356.1C104.3,356.3 103.8,356.5 103.4,356.5C103.0,356.5 102.5,356.3 102.2,356.1C101.9,355.9 101.7,355.5 101.7,355.2C101.7,354.9 101.9,354.5 102.2,354.3C102.5,354.1 103.0,353.9 103.4,353.9C103.8,353.9 104.3,354.1 104.6,354.3C104.9,354.5 105.1,354.9 105.1,355.2Z"/></clipPath>
</defs>
<g clip-path="url(#lc)">
<rect x="90" y="165" width="850" height="430" fill="#e0e0e0"/>
<g fill="#808080"><path d="M243.0,209.2L236.0,207.6L228.1,206.3L219.3,205.3L210.5,206.6L203.0,207.6L195.4,210.1L190.4,211.3L189.8,215.1L192.3,217.0L186.7,217.6L176.6,218.9L175.3,222.0L185.4,221.4L186.7,223.3L180.4,225.8L171.6,228.3L165.3,231.4L163.4,233.9L166.6,235.8L164.7,238.3L170.3,237.7L175.3,238.3L170.3,241.5L162.8,244.6L156.5,246.7L152.7,248.4L157.1,247.7L164.0,245.6L171.6,242.8L177.9,240.5L182.9,237.7L190.4,234.4L198.0,231.4L201.7,232.4L206.7,233.9L211.8,235.2L215.5,234.9L218.0,237.7L221.2,242.7L225.6,249.0L223.7,249.6L219.3,244.0L216.2,238.3L215.3,234.9Z"/><path d="M141.2,250.8C141.7,250.6 143.0,250.3 144.0,250.1C144.9,249.9 146.3,249.6 146.7,249.6C147.2,249.6 147.2,249.9 146.7,250.1C146.3,250.3 144.9,250.6 144.0,250.8C143.0,250.9 141.7,251.1 141.2,251.1C140.7,251.1 140.7,250.9 141.2,250.8Z"/><path d="M134.4,253.3C134.7,253.1 135.7,252.8 136.4,252.6C137.1,252.5 138.1,252.1 138.4,252.1C138.8,252.1 138.8,252.5 138.4,252.6C138.1,252.8 137.1,253.1 136.4,253.3C135.7,253.4 134.7,253.6 134.4,253.6C134.1,253.6 134.1,253.4 134.4,253.3Z"/><path d="M130.1,254.7C130.3,254.5 131.0,254.2 131.4,254.0C131.8,253.8 132.4,253.5 132.7,253.5C132.9,253.5 132.9,253.8 132.7,254.0C132.4,254.2 131.8,254.5 131.4,254.7C131.0,254.8 130.3,255.0 130.1,255.0C129.9,255.0 129.9,254.8 130.1,254.7Z"/><path d="M157.3,225.9C157.6,225.7 158.4,225.5 159.0,225.3C159.6,225.1 160.5,224.8 160.8,224.8C161.1,224.8 161.1,225.1 160.8,225.3C160.5,225.5 159.6,225.7 159.0,225.9C158.4,226.1 157.6,226.3 157.3,226.3C157.0,226.3 157.0,226.1 157.3,225.9Z"/><path d="M157.5,235.3C157.8,235.1 158.5,234.9 159.0,234.7C159.5,234.5 160.3,234.2 160.5,234.2C160.8,234.2 160.8,234.5 160.5,234.7C160.3,234.9 159.5,235.1 159.0,235.3C158.5,235.5 157.8,235.7 157.5,235.7C157.3,235.7 157.3,235.5 157.5,235.3Z"/><path d="M221.2,267.5L217.5,277.5L212.5,287.4L210.5,299.9L213.7,309.9L220.0,315.4L229.9,317.9L238.7,319.9L244.9,319.4L246.3,320.0L248.8,325.0L252.6,326.9L256.4,325.7L258.9,330.0L261.4,335.1L263.9,336.3L264.5,332.6L267.7,329.4L272.7,326.3L277.7,325.0L282.7,326.3L286.5,325.7L287.8,323.8L291.5,323.1L296.6,324.4L300.3,325.0L302.8,327.5L303.5,332.6L305.3,337.0L307.2,338.8L309.7,336.3L309.7,331.3L308.5,326.3L309.1,320.0L312.3,316.1L319.8,311.1L326.0,307.4L328.5,302.4L327.8,298.7L331.0,294.9L336.0,291.2L343.5,287.4L349.7,282.4L356.0,279.9L357.7,273.7L355.2,272.0L349.7,275.0L343.5,277.5L336.0,280.4L327.3,283.7L319.8,287.4L315.3,288.7L317.3,283.7L319.3,277.5L314.8,272.5L307.3,269.5L296.1,267.5Z"/><path d="M495.0,322.0L495.0,268.0L508.0,266.5L520.0,262.3L530.0,257.8L537.0,252.0L538.0,246.0L541.0,242.5L544.5,240.6L548.0,239.6L548.0,232.7L548.4,226.4L552.8,220.1L557.8,215.1L564.1,212.0L570.4,210.1L575.4,208.6L580.4,208.6L585.4,206.9L600.0,170.0L930.0,170.0L930.0,230.0L900.0,245.0L896.0,264.0L880.0,273.0L872.0,277.2L862.0,284.0L848.3,287.1L846.8,288.6L842.7,288.1L837.0,290.5L835.1,292.8L838.0,300.0L843.0,312.0L846.0,325.0L841.5,338.0L838.5,347.0L832.0,356.0L822.0,363.0L812.0,362.0L812.2,357.9L809.7,359.4L804.7,357.4L802.3,349.9L797.3,342.4L789.8,337.4L777.3,338.6L764.8,336.2L752.3,332.4L742.4,327.4L734.9,322.4L729.9,318.7L726.1,313.7L721.1,307.5L713.7,301.2L708.7,295.0L717.4,290.0L721.1,282.5L729.8,266.1L724.8,264.8L717.3,262.3L709.8,259.8L702.3,256.1L694.8,251.1L687.3,252.3L679.9,248.6L669.9,251.1L662.4,256.1L662.2,253.2L662.8,260.1L666.6,260.8L660.3,262.0L652.8,267.7L646.5,271.4L644.0,280.2L637.7,279.0L630.2,276.5L625.0,290.0L600.0,290.5L596.0,294.0L593.0,300.0L592.0,311.0L575.0,313.0L560.0,308.0L552.0,304.0L545.0,304.0L530.0,304.0L517.0,304.0L506.0,306.0L498.0,310.0Z"/><path d="M502.6,250.3L508.8,250.3L509.5,255.9L507.0,258.4L502.6,257.2Z"/><path d="M95.2,349.6C95.2,349.8 95.1,350.0 94.9,350.1C94.8,350.2 94.5,350.3 94.3,350.3C94.1,350.3 93.8,350.2 93.7,350.1C93.5,350.0 93.4,349.8 93.4,349.6C93.4,349.4 93.5,349.2 93.7,349.1C93.8,349.0 94.1,348.9 94.3,348.9C94.5,348.9 94.8,349.0 94.9,349.1C95.1,349.2 95.2,349.4 95.2,349.6Z"/><path d="M98.6,351.8C98.6,352.0 98.5,352.2 98.3,352.4C98.2,352.5 97.8,352.6 97.6,352.6C97.4,352.6 97.0,352.5 96.9,352.4C96.7,352.2 96.6,352.0 96.6,351.8C96.6,351.6 96.7,351.4 96.9,351.2C97.0,351.1 97.4,351.0 97.6,351.0C97.8,351.0 98.2,351.1 98.3,351.2C98.5,351.4 98.6,351.6 98.6,351.8Z"/><path d="M105.1,355.2C105.1,355.5 104.9,355.9 104.6,356.1C104.3,356.3 103.8,356.5 103.4,356.5C103.0,356.5 102.5,356.3 102.2,356.1C101.9,355.9 101.7,355.5 101.7,355.2C101.7,354.9 101.9,354.5 102.2,354.3C102.5,354.1 103.0,353.9 103.4,353.9C103.8,353.9 104.3,354.1 104.6,354.3C104.9,354.5 105.1,354.9 105.1,355.2Z"/></g>
<g fill="#e0e0e0"><path d="M732.3,266.1C732.9,264.6 736.4,263.4 739.8,262.3C743.1,261.3 749.5,260.4 752.2,259.8C754.9,259.2 754.3,258.2 756.0,258.6C757.6,259.0 759.1,261.3 762.2,262.3C765.3,263.4 770.1,264.6 774.7,264.8C779.3,265.0 785.5,263.6 789.7,263.6C793.8,263.6 796.7,263.8 799.7,264.8C802.6,265.9 805.1,268.4 807.1,269.8C809.2,271.3 812.5,272.5 812.1,273.6C811.7,274.6 807.1,274.8 804.6,276.0C802.1,277.3 798.8,279.6 797.2,281.0C795.5,282.5 796.7,283.5 794.7,284.8C792.6,286.0 788.0,288.3 784.7,288.5C781.3,288.7 778.4,286.7 774.7,286.0C771.0,285.4 766.4,285.4 762.2,284.8C758.1,284.2 753.1,283.7 749.7,282.3C746.4,280.8 744.5,277.9 742.3,276.0C740.0,274.2 737.7,272.7 736.0,271.1C734.3,269.4 731.6,267.5 732.3,266.1Z"/><path d="M536.6,274.4C536.6,273.8 537.7,272.4 538.7,271.9C539.7,271.4 541.3,271.2 542.5,271.2C543.6,271.2 544.6,271.6 545.6,271.9C546.6,272.2 548.4,272.7 548.7,273.1C549.0,273.6 548.2,274.4 547.5,274.7C546.7,275.0 545.4,274.8 544.3,275.0C543.3,275.1 542.2,275.6 541.2,275.6C540.3,275.7 539.5,275.5 538.7,275.3C538.0,275.1 536.6,274.9 536.6,274.4Z"/><path d="M491.4,330.0C489.7,332.1 487.0,334.2 485.1,336.3C483.2,338.4 481.3,340.3 480.1,342.6C478.8,344.9 477.8,347.6 477.6,350.1C477.4,352.7 478.9,355.2 478.8,357.7C478.7,360.2 477.5,363.1 477.0,365.2C476.4,367.3 475.5,368.6 475.7,370.2C475.9,371.9 477.5,373.6 478.2,375.3C478.9,376.9 478.9,378.4 480.1,380.3C481.2,382.1 483.7,384.2 485.1,386.3C486.6,388.3 487.2,390.6 488.9,392.6C490.6,394.5 493.1,396.7 495.2,398.2C497.3,399.7 499.3,401.0 501.4,401.3C503.5,401.7 505.6,400.4 507.7,400.1C509.8,399.8 511.5,399.5 514.0,399.5C516.5,399.5 520.1,399.7 522.8,400.1C525.5,400.5 528.2,401.1 530.3,402.0C532.4,402.8 533.7,404.0 535.3,405.1C537.0,406.3 539.1,407.6 540.4,408.9C541.6,410.1 541.8,411.4 542.9,412.7C543.9,413.9 545.6,415.2 546.7,416.4C547.7,417.7 548.3,418.7 549.2,420.2C550.0,421.7 550.6,423.5 551.7,425.2C552.7,426.9 554.6,428.6 555.4,430.2C556.3,431.9 556.1,433.2 556.7,435.3C557.3,437.3 558.6,440.3 559.2,442.8C559.8,445.3 561.2,447.9 560.5,450.3C559.7,452.8 556.0,454.7 554.9,457.4C553.7,460.0 553.4,463.2 553.6,466.1C553.8,469.0 555.1,471.7 556.1,474.8C557.2,478.0 558.6,481.5 559.9,484.8C561.1,488.1 562.6,491.5 563.6,494.8C564.6,498.1 565.3,501.9 566.1,504.8C566.9,507.7 568.0,510.0 568.6,512.3C569.2,514.6 569.0,517.1 569.8,518.5C570.7,520.0 571.5,520.8 573.6,521.0C575.7,521.2 579.2,520.6 582.3,519.8C585.4,518.9 589.4,517.5 592.3,516.0C595.2,514.6 597.5,513.1 599.8,511.0C602.1,508.9 604.6,505.8 606.0,503.5C607.5,501.2 607.9,499.6 608.5,497.3C609.1,495.0 608.7,491.5 609.8,489.8C610.8,488.1 613.7,488.8 614.8,487.3C615.8,485.9 616.0,482.7 616.0,481.1C616.0,479.4 614.1,478.6 614.8,477.3C615.4,476.1 617.7,475.0 619.8,473.6C621.8,472.1 625.4,470.5 627.2,468.6C629.1,466.7 630.2,465.1 631.0,462.4C631.7,459.7 631.9,455.5 631.7,452.4C631.5,449.3 630.3,446.3 629.7,443.6C629.2,440.9 628.5,438.4 628.5,436.2C628.5,433.9 628.7,432.4 629.7,429.9C630.8,427.4 632.6,424.3 634.7,421.2C636.8,418.1 639.7,414.5 642.2,411.2C644.7,407.9 647.4,404.3 649.7,401.2C652.0,398.1 654.3,395.2 655.9,392.5C657.6,389.8 658.9,386.9 659.7,385.0C660.5,383.1 660.7,382.0 660.9,381.2C661.2,380.5 662.3,380.3 661.0,380.3C659.7,380.3 655.5,381.0 652.8,381.3C650.2,381.7 647.6,382.7 645.3,382.6C643.0,382.5 640.7,381.8 639.0,380.6C637.3,379.4 636.7,377.0 635.3,375.3C633.8,373.6 631.7,372.2 630.2,370.3C628.8,368.4 627.9,366.7 626.5,364.0C625.0,361.3 623.1,357.1 621.4,354.0C619.8,350.8 618.1,348.3 616.4,345.2C614.7,342.0 613.0,338.4 611.4,335.1C609.8,331.9 607.5,327.7 607.0,325.7C606.5,323.7 607.8,323.7 608.3,323.2C608.7,322.6 611.1,322.8 609.7,322.4C608.3,322.1 602.6,321.6 599.7,321.2C596.8,320.8 594.5,320.8 592.3,319.9C590.0,319.1 588.0,316.8 586.0,316.2C584.0,315.6 582.2,316.5 580.4,316.6C578.6,316.6 576.7,316.1 575.4,316.6C574.1,317.0 574.1,318.5 572.9,319.1C571.6,319.6 569.7,319.9 567.9,319.7C566.0,319.5 563.7,318.5 561.6,317.8C559.5,317.1 557.2,316.0 555.3,315.3C553.4,314.6 551.4,314.3 550.3,313.4C549.1,312.6 548.6,311.6 548.4,310.3C548.2,308.9 549.1,306.3 549.0,305.3C548.9,304.2 548.8,304.4 547.8,304.0C546.7,303.6 545.5,302.8 542.7,302.7C540.0,302.6 535.4,303.1 531.4,303.4C527.5,303.7 522.9,304.1 518.9,304.6C514.9,305.2 510.1,305.8 507.6,306.5C505.1,307.2 504.9,308.0 503.8,309.0C502.8,310.1 502.3,311.3 501.3,312.8C500.3,314.3 498.6,315.9 497.5,317.8C496.5,319.7 496.0,322.1 495.0,324.1C494.0,326.1 493.0,328.0 491.4,330.0Z"/></g>
<g fill="none" stroke="#adadad" stroke-width="0.55" stroke-linejoin="round"><path d="M555.2,252.4L556.4,256.5L557.2,260.5M551.1,263.4L553.5,261.8L557.2,261.0L560.9,262.6L565.8,264.6L563.3,266.3L559.3,267.1L554.4,267.5ZM565.8,264.6L570.7,265.4L575.6,265.0L577.2,263.4M570.7,249.5L573.9,251.2L576.4,252.0L577.2,256.5L578.4,260.1L577.2,263.4M570.3,245.1L575.6,245.1L581.3,246.3L582.9,247.9L580.5,251.6L576.4,252.0M570.7,241.8L575.6,242.6L581.3,243.4L584.5,245.9L582.9,247.9M574.8,237.7L582.1,238.5L583.7,241.0L584.5,245.9M583.7,235.3L583.3,238.5L583.7,241.0M584.5,245.9L590.3,246.7L593.5,250.8L597.2,253.6L595.1,256.5L593.5,259.3L587.0,258.9L578.8,258.5L578.4,260.1M593.5,259.3L596.0,257.3L601.7,257.7L603.3,260.1L606.6,263.0M563.3,266.3L567.4,265.4L573.9,265.8L576.4,267.9L573.9,269.1L569.0,269.1L564.2,269.9L562.5,267.9M554.4,267.5L553.5,272.4L549.5,272.0L545.4,271.2L540.5,270.3M564.2,269.9L561.7,272.8L557.6,273.6L553.5,272.4M573.9,269.1L577.2,269.5L575.6,272.8L572.3,275.2L567.4,276.0L563.3,274.4L561.7,272.8M577.2,269.5L582.1,269.9L586.2,269.1L589.4,271.2L591.9,274.4L592.7,277.7M586.2,269.1L588.6,268.7L591.1,271.2L592.3,274.4M572.3,275.2L575.6,278.5L578.0,281.8M538.5,255.7L537.2,258.9L536.4,263.0L538.1,265.4L541.3,267.1L540.5,270.3M533.2,256.5L537.2,258.9M529.9,260.5L533.2,263.0L536.4,264.6L538.1,265.4M542.5,251.2L545.0,251.6M557.4,276.2L559.9,275.3L562.4,273.7L561.2,272.5M559.3,278.1L561.8,277.5L564.9,278.1L568.7,277.8L569.9,276.2M568.7,277.8L569.9,281.2L569.3,283.4L567.4,285.0M563.1,282.5L564.9,281.2L567.4,281.9L569.3,283.4M569.9,281.2L573.0,282.5L574.9,280.6L577.4,280.0L578.7,282.5M570.5,288.1L572.4,286.8L574.9,287.5L577.4,286.2L578.7,282.5L583.0,281.9L589.9,281.2M574.9,287.5L575.5,290.0L578.7,289.3L581.8,290.0L586.1,290.0M571.5,290.6L573.7,290.0L575.5,290.0M573.7,290.0L574.3,292.5L576.2,293.7L579.3,295.0M502.6,284.5L504.1,287.7L505.3,292.7L503.3,297.7L504.1,302.7M519.5,283.3L523.9,284.9L528.9,286.4M538.3,268.8L539.6,272.6L537.7,275.1L540.2,278.3L542.7,280.8M547.1,273.9L552.8,275.1L556.6,276.4M569.1,212.6L570.4,215.7L571.6,218.6M580.7,209.1L583.2,217.0L589.2,227.7L586.4,234.2"/></g>
<g fill="none" stroke="#eeeeee" stroke-width="0.6" stroke-linejoin="round"><path d="M324.9,381.2L327.4,392.5L337.3,397.5L337.3,407.5L344.8,412.4L357.3,405.0L363.6,398.7M363.6,398.7L364.8,407.5L372.3,408.7L379.8,402.5M372.3,398.7L372.3,408.7M306.2,412.4L317.4,417.4L309.9,427.4L303.7,429.9M317.4,417.4L329.9,422.4L331.1,428.7L322.4,433.7L321.1,439.9L329.9,447.4L342.3,446.1L334.9,452.4L336.1,464.9L333.6,473.6M342.3,446.1L349.8,454.9L359.8,459.9L366.0,467.3L367.3,476.1L354.8,476.1L344.8,483.6L336.1,479.8M367.3,476.1L377.3,489.8L374.8,498.5L367.3,497.3L359.8,487.3L354.8,482.3L354.8,476.1M336.1,479.8L337.3,492.3L336.1,509.8L339.8,529.7L341.1,554.7M374.8,498.5L371.0,509.8L374.8,519.8L384.8,514.8M377.3,489.8L379.8,494.8L374.8,498.5M503.7,329.9L532.4,357.4L532.4,364.9L549.8,364.9L562.3,359.9L564.8,347.4L557.3,337.4L548.6,310.0M479.9,337.4L503.7,329.9L514.9,317.5L524.9,312.5L524.9,302.5M564.8,347.4L579.8,352.4L588.5,348.6L588.5,319.9M588.5,348.6L599.7,354.9L599.7,329.9L609.7,329.9L622.2,331.2M579.8,352.4L582.3,372.4L574.8,384.8L579.8,392.3M599.7,354.9L604.7,372.4L599.7,384.8L612.2,389.8L624.7,387.3L632.2,379.8L637.2,371.1M624.7,387.3L629.7,394.8L639.7,394.8L649.7,387.3L660.9,381.1M477.5,372.4L494.9,372.4L507.4,377.3L512.4,389.8M507.4,377.3L524.9,374.9L532.4,364.9M579.8,424.9L599.8,427.4L612.3,419.9L629.7,422.4L639.7,414.9M599.8,427.4L602.3,442.4L599.8,454.9L614.8,454.9L616.0,444.9L629.7,443.6M559.9,439.9L579.8,444.9L582.3,454.9L599.8,454.9M554.9,466.1L579.8,468.6L589.8,467.3L599.8,469.8L614.8,462.4L616.0,454.9M578.6,469.8L577.3,489.8L566.1,497.3M589.8,467.3L589.8,479.8L599.8,484.8L609.8,489.8M577.3,489.8L589.8,492.3L599.8,484.8M614.8,462.4L619.8,473.6M648.3,325.2L641.4,315.1L635.2,312.6L628.9,306.3L625.1,297.5M649.0,326.4L641.4,330.2L631.4,331.4L622.6,327.7L613.8,326.4M675.3,338.3L677.9,327.7L680.4,317.6L675.3,308.8L677.9,300.0L672.8,292.5M680.4,317.6L690.4,318.9L700.5,315.1L708.0,308.8L708.6,295.7M704.2,342.7L705.5,334.0L700.5,327.7L695.4,323.9L690.4,318.9M677.9,300.0L687.9,297.5L695.4,301.3L704.2,298.8L708.6,295.7M666.6,338.3L665.3,346.5L675.3,349.0L680.4,346.5M654.0,332.7L659.0,342.7L665.3,346.5L660.3,355.3L650.2,360.3M660.0,295.0L675.0,292.5L689.9,300.0L708.7,295.0M675.0,292.5L680.0,282.5L694.9,280.0M689.9,300.0L692.4,285.0L709.9,280.0M282.7,367.1L280.2,370.2L275.2,371.5L272.7,371.5M286.5,367.7L285.3,372.7L289.0,375.3L295.3,372.7M294.7,377.8L291.5,380.3L289.0,382.8"/></g>
</g>
<rect x="544.8" y="258" width="1.2" height="108" fill="#6e9bf7"/>
<rect x="542.7" y="255.7" width="5.4" height="5" fill="#2b6cf6"/>
</svg>
<div class="c blue" style="left:154.75px;top:261.7px;width:70px;height:70px;"></div>
<div class="c blue" style="left:442.15px;top:228.3px;width:63.8px;height:63.8px;"></div>
<div class="c blue" style="left:591.8px;top:249.6px;width:77.2px;height:77.2px;"></div>
<div class="c blue" style="left:514.5px;top:364.3px;width:61px;height:61px;"></div>
<div class="c red" style="left:769.3px;top:159.4px;width:97px;height:97px;"></div>
<div class="c red" style="left:721.1px;top:296.5px;width:96.4px;height:96.4px;"></div>
<div class="c dark" style="left:153.7px;top:407.4px;width:77.6px;height:77.6px;"></div>
<div class="c dark" style="left:75.3px;top:456.8px;width:30.2px;height:30.2px;"></div>
<div id="note"></div>
<h1 class="t" style="left:52.22px;top:57.90px;font-size:39.0px;line-height:39.0px;transform:scaleX(0.8935);color:#0a2530;font-weight:bold;">China und Russland bleiben die größte Bedrohung</h1>
<h2 class="t" style="left:52.45px;top:114.60px;font-size:24.6px;line-height:24.6px;transform:scaleX(0.9733);color:#2566f5;">Konnten Sie feststellen, von wo aus bzw. aus welcher Region diese Handlungen</h2>
<h2 class="t" style="left:53.36px;top:146.00px;font-size:24.6px;line-height:24.6px;transform:scaleX(0.9733);color:#2566f5;">vorgenommen wurden?</h2>
<div class="t" style="left:171.40px;top:280.80px;font-size:18.3px;line-height:18.3px;transform:scaleX(0.9971);color:#fff;">24%</div>
<div class="t" style="left:177.90px;top:303.90px;font-size:10.6px;line-height:10.6px;transform:scaleX(1.0044);color:#fff;">-1PP</div>
<div class="t" style="left:121.02px;top:288.90px;font-size:13.5px;line-height:13.5px;transform:scaleX(0.8822);color:#14313b;">USA</div>
<div class="t" style="left:455.71px;top:243.90px;font-size:18.3px;line-height:18.3px;transform:scaleX(0.9914);color:#fff;">22%</div>
<div class="t" style="left:460.70px;top:267.60px;font-size:10.6px;line-height:10.6px;transform:scaleX(1.0080);color:#fff;">+1PP</div>
<div class="t" style="left:441.71px;top:301.00px;font-size:13.5px;line-height:13.5px;transform:scaleX(0.9383);color:#14313b;">EU-Länder</div>
<div class="t" style="left:443.58px;top:316.70px;font-size:13.5px;line-height:13.5px;transform:scaleX(0.9590);color:#14313b;">(nicht DE)</div>
<div class="t" style="left:611.85px;top:273.40px;font-size:18.3px;line-height:18.3px;transform:scaleX(0.9986);color:#fff;">31%</div>
<div class="t" style="left:618.50px;top:296.80px;font-size:10.6px;line-height:10.6px;transform:scaleX(1.0044);color:#fff;">-1PP</div>
<div class="t" style="left:596.97px;top:332.75px;font-size:13.5px;line-height:13.5px;transform:scaleX(0.9783);color:#14313b;">Osteuropa</div>
<div class="t" style="left:576.23px;top:348.45px;font-size:13.5px;line-height:13.5px;transform:scaleX(0.9560);color:#14313b;">(nicht EU und RU)</div>
<div class="t" style="left:526.69px;top:380.10px;font-size:18.3px;line-height:18.3px;transform:scaleX(1.0057);color:#fff;">21%</div>
<div class="t" style="left:531.99px;top:403.70px;font-size:10.6px;line-height:10.6px;transform:scaleX(1.0160);color:#fff;">+1PP</div>
<div class="t" style="left:507.91px;top:435.60px;font-size:13.5px;line-height:13.5px;transform:scaleX(0.9911);color:#14313b;">Deutschland</div>
<div class="t" style="left:792.01px;top:185.95px;font-size:27.3px;line-height:27.3px;transform:scaleX(0.9245);color:#fff;">46%</div>
<div class="t" style="left:804.50px;top:219.40px;font-size:10.6px;line-height:10.6px;transform:scaleX(1.0040);color:#fff;">+7PP</div>
<div class="t" style="left:874.35px;top:196.10px;font-size:13.5px;line-height:13.5px;transform:scaleX(0.9493);color:#14313b;">Russland</div>
<div class="t" style="left:745.35px;top:326.30px;font-size:25.5px;line-height:25.5px;transform:scaleX(0.9085);color:#fff;">46%</div>
<div class="t" style="left:755.79px;top:355.95px;font-size:10.6px;line-height:10.6px;transform:scaleX(1.0120);color:#fff;">+1PP</div>
<div class="t" style="left:752.07px;top:402.00px;font-size:13.5px;line-height:13.5px;transform:scaleX(0.9768);color:#14313b;">China</div>
<div class="t" style="left:174.46px;top:431.70px;font-size:18.3px;line-height:18.3px;transform:scaleX(0.9872);color:#fff;">31%</div>
<div class="t" style="left:180.69px;top:454.20px;font-size:10.6px;line-height:10.6px;transform:scaleX(1.0178);color:#fff;">-5PP</div>
<div class="t" style="left:160.41px;top:504.80px;font-size:13.5px;line-height:13.5px;transform:scaleX(0.9937);color:#14313b;">Unklar aus</div>
<div class="t" style="left:147.90px;top:521.20px;font-size:13.5px;line-height:13.5px;transform:scaleX(0.9713);color:#14313b;">welcher Region</div>
<div class="t" style="left:79.98px;top:466.30px;font-size:14.8px;line-height:14.8px;transform:scaleX(0.9795);color:#fff;">1%</div>
<div class="t" style="left:74.30px;top:504.80px;font-size:13.5px;line-height:13.5px;transform:scaleX(0.9984);color:#14313b;">keine</div>
<div class="t" style="left:67.90px;top:521.20px;font-size:13.5px;line-height:13.5px;transform:scaleX(0.9848);color:#14313b;">Angabe</div>
<div class="t" style="left:865.31px;top:416.50px;font-size:13.2px;line-height:13.2px;transform:scaleX(0.9872);color:#2566f5;">Prozentpunkte (PP)</div>
<div class="t" style="left:860.50px;top:432.90px;font-size:13.2px;line-height:13.2px;transform:scaleX(1.0033);color:#2566f5;">im Vergleich zu 2024</div>
<div class="t" style="left:52.16px;top:563.15px;font-size:10.2px;line-height:10.2px;transform:scaleX(0.9883);color:#1b3640;">Basis: Unternehmen, die in den letzten 12 Monaten von Datendiebstahl, Industriespionage oder Sabotage betroffen waren (n=868) | Mehrfachnennungen möglich |</div>
<div class="t" style="left:52.42px;top:577.00px;font-size:10.2px;line-height:10.2px;transform:scaleX(0.9617);color:#1b3640;">Quelle: Bitkom Research 2025</div>
<div class="t" style="left:984.95px;top:562.00px;font-size:27.0px;line-height:27.0px;transform:scaleX(1.0138);color:#0a2530;font-family:'Liberation Serif',serif;-webkit-text-stroke:0.6px #0a2530;">bitkom</div>
<div id="idot"></div>
<div id="frame"></div>
</body>
</html>
